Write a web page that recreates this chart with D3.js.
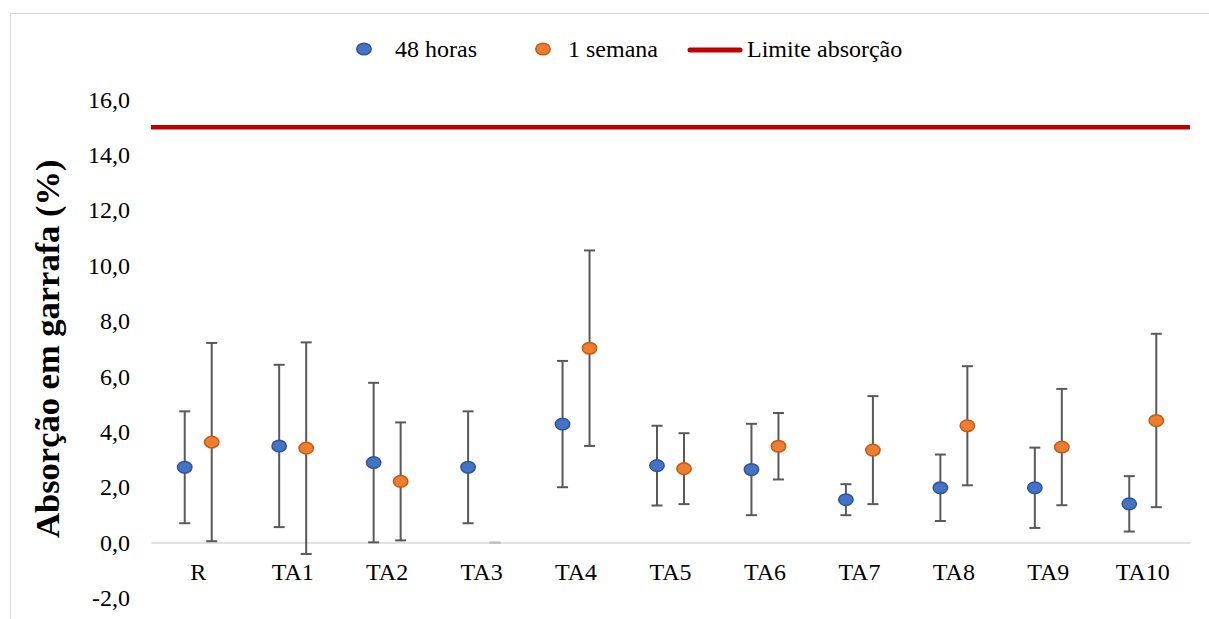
<!doctype html>
<html>
<head>
<meta charset="utf-8">
<style>
  body { margin: 0; background: #fff; }
  svg text { font-family: "Liberation Serif", "Times New Roman", serif; fill: #000; }
</style>
</head>
<body>

<div id="container"></div>

<script src="https://cdn.jsdelivr.net/npm/d3@7"></script>
<script type="text/javascript">

    // categories and series
    var categories = ["R", "TA1", "TA2", "TA3", "TA4", "TA5", "TA6", "TA7", "TA8", "TA9", "TA10"];
    var h48 = [2.72, 3.49, 2.89, 2.72, 4.28, 2.78, 2.64, 1.55, 1.98, 1.98, 1.40];
    var h48err = [2.02, 2.93, 2.88, 2.02, 2.28, 1.44, 1.65, 0.56, 1.2, 1.45, 1.0];
    var w1 = [3.63, 3.41, 2.21, null, 7.02, 2.67, 3.48, 3.34, 4.22, 3.45, 4.41];
    var w1err = [3.58, 3.82, 2.13, 0, 3.53, 1.28, 1.2, 1.95, 2.15, 2.1, 3.13];
    var limite = 15;
    var yTicks = [-2, 0, 2, 4, 6, 8, 10, 12, 14, 16];
    var seriesNames = ["48 horas", "1 semana"];
    var limiteName = "Limite absorção";
    var yTitle = "Absorção em garrafa (%)";

    var width = 1209, height = 619;
    var plotLeft = 151, plotRight = 1190, plotTop = 99.5, plotBottom = 598;

    var svg = d3.select("#container").append("svg")
        .attr("width", width)
        .attr("height", height);

    // chart border
    svg.append("rect")
        .attr("x", 10.5).attr("y", 13.5)
        .attr("width", 1220).attr("height", 640)
        .attr("fill", "none")
        .attr("stroke", "#d9d9d9")
        .attr("stroke-width", 1);

    var x = d3.scaleBand().domain(categories).range([plotLeft, plotRight]);
    var offset = d3.scalePoint().domain(seriesNames).range([-13.5, 13.5]);
    var y = d3.scaleLinear().domain([-2, 16]).range([plotBottom, plotTop]);

    var comma = d3.formatLocale({decimal: ",", thousands: ".", grouping: [3], currency: ["", ""], minus: "-"}).format(".1f");

    // y axis labels
    var yAxis = svg.append("g")
        .attr("transform", "translate(" + plotLeft + ",0)")
        .call(d3.axisLeft(y).tickValues(yTicks).tickFormat(comma).tickSize(0).tickPadding(21));
    yAxis.select(".domain").remove();
    yAxis.selectAll("text")
        .style("font-family", "Liberation Serif")
        .style("font-size", "24px");

    // y title
    svg.append("text")
        .attr("transform", "translate(59," + ((plotTop + plotBottom) / 2) + ") rotate(-90)")
        .attr("text-anchor", "middle")
        .style("font-family", "Liberation Serif")
        .style("font-size", "34.5px")
        .style("font-weight", "bold")
        .text(yTitle);

    // category axis at zero
    var xAxis = svg.append("g")
        .attr("transform", "translate(0," + y(0) + ")")
        .call(d3.axisBottom(x).tickSize(0).tickPadding(20));
    xAxis.select(".domain")
        .attr("stroke", "#d9d9d9")
        .attr("stroke-width", 1.5);
    xAxis.selectAll("text")
        .style("font-family", "Liberation Serif")
        .style("font-size", "24px");

    // limit line
    svg.append("line")
        .attr("x1", plotLeft).attr("x2", plotRight)
        .attr("y1", y(limite)).attr("y2", y(limite))
        .attr("stroke", "#c00000")
        .attr("stroke-width", 4.5);

    var series = [
        {name: seriesNames[0], values: h48, err: h48err, fill: "#4472c4", stroke: "#2f5597"},
        {name: seriesNames[1], values: w1, err: w1err, fill: "#ed7d31", stroke: "#c55a11"}
    ];

    var points = [];
    series.forEach(function (s) {
        categories.forEach(function (c, i) {
            points.push({cat: c, name: s.name, v: s.values[i], e: s.err[i], fill: s.fill, stroke: s.stroke});
        });
    });

    function px(d) { return x(d.cat) + x.bandwidth() / 2 + offset(d.name); }

    var bars = svg.append("g").attr("stroke", "#595959").attr("stroke-width", 2);
    points.forEach(function (d) {
        var v = d.v === null ? 0 : d.v;
        var cx = px(d);
        var col = d.v === null ? "#bfbfbf" : "#595959";
        bars.append("line").attr("x1", cx).attr("x2", cx)
            .attr("y1", y(v - d.e)).attr("y2", y(v + d.e));
        bars.append("line").attr("x1", cx - 5.5).attr("x2", cx + 5.5)
            .attr("y1", y(v + d.e)).attr("y2", y(v + d.e)).attr("stroke", col);
        bars.append("line").attr("x1", cx - 5.5).attr("x2", cx + 5.5)
            .attr("y1", y(v - d.e)).attr("y2", y(v - d.e)).attr("stroke", col);
    });

    svg.append("g").selectAll("ellipse")
        .data(points.filter(function (d) { return d.v !== null; }))
        .enter().append("ellipse")
        .attr("cx", px)
        .attr("cy", function (d) { return y(d.v); })
        .attr("rx", 7.2).attr("ry", 5.8)
        .attr("fill", function (d) { return d.fill; })
        .attr("stroke", function (d) { return d.stroke; })
        .attr("stroke-width", 1.5);

    // legend
    var legend = svg.append("g")
        .style("font-family", "Liberation Serif");
    var ly = 49;
    var lx = [364, 543];
    series.forEach(function (s, i) {
        legend.append("ellipse")
            .attr("cx", lx[i]).attr("cy", ly)
            .attr("rx", 7.2).attr("ry", 5.8)
            .attr("fill", s.fill).attr("stroke", s.stroke).attr("stroke-width", 1.5);
        legend.append("text")
            .attr("x", lx[i] + (i === 0 ? 31 : 25)).attr("y", ly)
            .attr("dy", "0.33em")
            .style("font-family", "Liberation Serif")
            .style("font-size", "24px")
            .text(s.name);
    });
    legend.append("line")
        .attr("x1", 690).attr("x2", 740)
        .attr("y1", ly + 1).attr("y2", ly + 1)
        .attr("stroke", "#c00000").attr("stroke-width", 5)
        .attr("stroke-linecap", "round");
    legend.append("text")
        .attr("x", 747).attr("y", ly)
        .attr("dy", "0.33em")
        .style("font-family", "Liberation Serif")
        .style("font-size", "24px")
        .text(limiteName);

</script>
</body>
</html>
